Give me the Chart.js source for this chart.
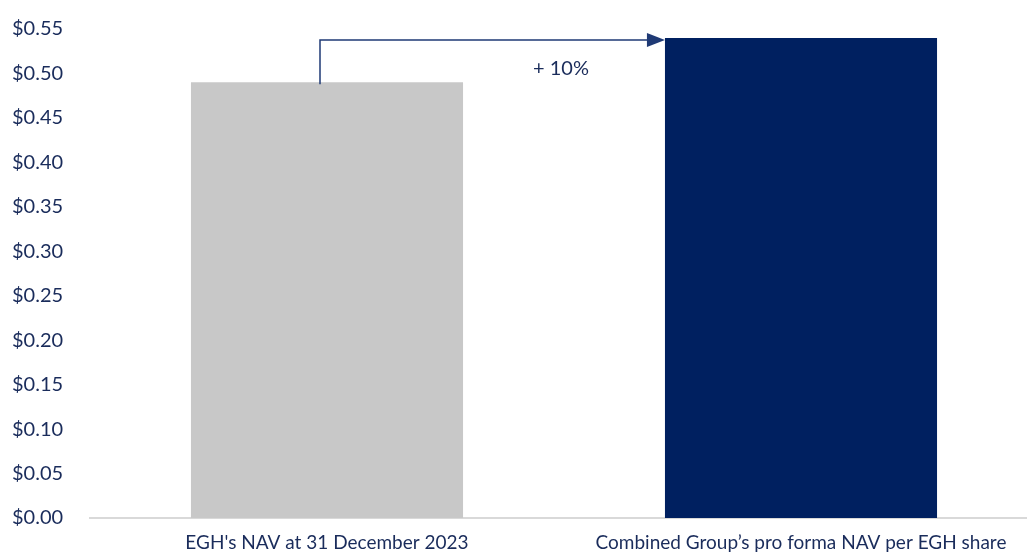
<!DOCTYPE html>
<html>
<head>
<meta charset="utf-8">
<script src="https://cdn.jsdelivr.net/npm/chart.js@4/dist/chart.umd.min.js"></script>
<style>
  html, body { margin: 0; padding: 0; background: #fff; overflow: hidden; }
  #wrap { position: absolute; left: 0; top: 0; width: 1038px; height: 554px; }
</style>
</head>
<body>
<div id="wrap"><canvas id="navChart"></canvas></div>
<script>
// chart data
const categories = ["EGH's NAV at 31 December 2023", "Combined Group\u2019s pro forma NAV per EGH share"];
const navValues = [0.49, 0.54];
const barColors = ['#c8c8c8', '#002060'];
const changeLabel = '+ 10%';

const textColor = '#1a2c5b';
const fontFamily = 'Lato, "Open Sans", sans-serif';

// draws the elbow arrow from bar 1 to bar 2 plus the % label
const arrowPlugin = {
    id: 'arrowPlugin',
    afterDatasetsDraw(chart) {
        const ctx = chart.ctx;
        const meta = chart.getDatasetMeta(0);
        const y = chart.scales.y;
        const b1 = meta.data[0];
        const b2 = meta.data[1];
        const x0 = b1.x - 7;
        const yTop = y.getPixelForValue(navValues[1]) + 2;
        const xEnd = b2.x - b2.width / 2;

        ctx.save();
        ctx.strokeStyle = '#1f3a75';
        ctx.fillStyle = '#1f3a75';
        ctx.lineWidth = 1.5;
        ctx.beginPath();
        ctx.moveTo(x0, b1.y + 2);
        ctx.lineTo(x0, yTop);
        ctx.lineTo(xEnd - 16, yTop);
        ctx.stroke();
        ctx.beginPath();
        ctx.moveTo(xEnd - 18, yTop - 7);
        ctx.lineTo(xEnd, yTop);
        ctx.lineTo(xEnd - 18, yTop + 7);
        ctx.closePath();
        ctx.fill();

        ctx.fillStyle = textColor;
        ctx.font = '20px ' + fontFamily;
        ctx.textAlign = 'center';
        ctx.textBaseline = 'middle';
        ctx.fillText(changeLabel, (b1.x + b2.x) / 2 - 3, y.getPixelForValue(0.5055));
        ctx.restore();
    }
};

new Chart(document.getElementById('navChart'), {
    type: 'bar',
    data: {
        labels: categories,
        datasets: [{
            data: navValues,
            backgroundColor: barColors,
            borderWidth: 0,
            categoryPercentage: 1,
            barPercentage: 0.574
        }]
    },
    options: {
        responsive: true,
        maintainAspectRatio: false,
        animation: false,
        layout: { padding: { left: 12, top: 29, right: 0, bottom: 0 } },
        plugins: {
            legend: { display: false },
            tooltip: { enabled: false }
        },
        scales: {
            x: {
                grid: { display: false, drawTicks: false },
                border: { color: '#d9d9d9', width: 2 },
                ticks: {
                    color: textColor,
                    font: { family: fontFamily, size: 19 },
                    padding: 13,
                    maxRotation: 0
                },
                afterFit(scale) { scale.height = 36; }
            },
            y: {
                min: 0,
                max: 0.55,
                grid: { display: false, drawTicks: false },
                border: { display: false },
                ticks: {
                    stepSize: 0.05,
                    color: textColor,
                    crossAlign: 'far',
                    font: { family: fontFamily, size: 20 },
                    callback: v => '$' + v.toFixed(2)
                },
                afterFit(scale) { scale.width = 78; }
            }
        }
    },
    plugins: [arrowPlugin]
});
</script>
</body>
</html>
